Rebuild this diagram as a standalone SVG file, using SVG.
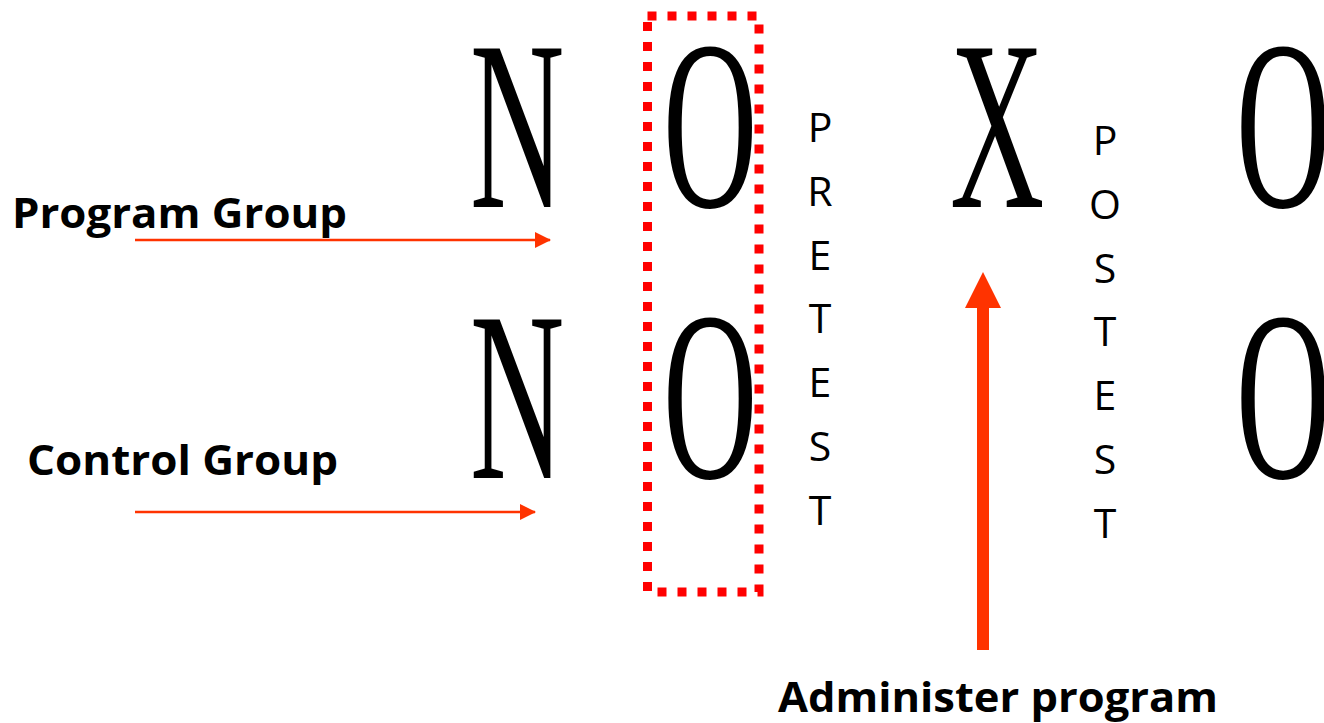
<svg xmlns="http://www.w3.org/2000/svg" width="1324" height="723" viewBox="0 0 1324 723">
<style>
.big{font-family:"Liberation Serif","Times New Roman",serif;font-size:242px;fill:#000}
.lbl{font-family:"Open Sans","Noto Sans",sans-serif;font-weight:700;font-size:42px;fill:#000}
.vt{font-family:"Open Sans","Noto Sans",sans-serif;font-size:41px;fill:#000;text-anchor:middle}
.arr{stroke:#FF3300;stroke-width:2.5;fill:none}
</style>
<defs>
<marker id="ah" markerWidth="16" markerHeight="16" refX="15" refY="8" orient="auto" markerUnits="userSpaceOnUse">
<path d="M0,0 L16,8 L0,16 Z" fill="#FF3300"/>
</marker>
</defs>
<rect width="1324" height="723" fill="#fff"/>
<g id="connectors">
<line class="arr" x1="135" y1="240" x2="550" y2="240" marker-end="url(#ah)"/>
<line class="arr" x1="135" y1="512" x2="535" y2="512" marker-end="url(#ah)"/>
<path d="M977,650 L977,308 L965,308 L983,272 L1001,308 L989,308 L989,650 Z" fill="#FF3300"/>
</g>
<g id="pretest-box">
<rect x="647.5" y="16" width="111.5" height="576" fill="none" stroke="#FF0000" stroke-width="9" stroke-dasharray="9 11"/>
</g>
<g id="node-N1"><text class="big" transform="translate(470,207) scale(0.54,1)">N</text></g>
<g id="node-O1"><text class="big" transform="translate(663,207) scale(0.54,1)">O</text></g>
<g id="node-X"><text class="big" transform="translate(950,207) scale(0.54,1)">X</text></g>
<g id="node-O2"><text class="big" transform="translate(1236,207) scale(0.54,1)">O</text></g>
<g id="node-N2"><text class="big" transform="translate(470,478) scale(0.54,1)">N</text></g>
<g id="node-O3"><text class="big" transform="translate(663,478) scale(0.54,1)">O</text></g>
<g id="node-O4"><text class="big" transform="translate(1236,478) scale(0.54,1)">O</text></g>
<g id="label-program"><text class="lbl" x="12" y="228" textLength="335" lengthAdjust="spacingAndGlyphs">Program Group</text></g>
<g id="label-control"><text class="lbl" x="27" y="475" textLength="311" lengthAdjust="spacingAndGlyphs">Control Group</text></g>
<g id="label-admin"><text class="lbl" x="778" y="712" textLength="440" lengthAdjust="spacingAndGlyphs">Administer program</text></g>
<g id="label-pretest">
<text class="vt" x="820" y="142">P</text>
<text class="vt" x="820" y="206">R</text>
<text class="vt" x="820" y="270">E</text>
<text class="vt" x="820" y="333">T</text>
<text class="vt" x="820" y="397">E</text>
<text class="vt" x="820" y="461">S</text>
<text class="vt" x="820" y="525">T</text>
</g>
<g id="label-posttest">
<text class="vt" x="1105" y="155">P</text>
<text class="vt" x="1105" y="219">O</text>
<text class="vt" x="1105" y="283">S</text>
<text class="vt" x="1105" y="346">T</text>
<text class="vt" x="1105" y="410">E</text>
<text class="vt" x="1105" y="474">S</text>
<text class="vt" x="1105" y="538">T</text>
</g>
</svg>
